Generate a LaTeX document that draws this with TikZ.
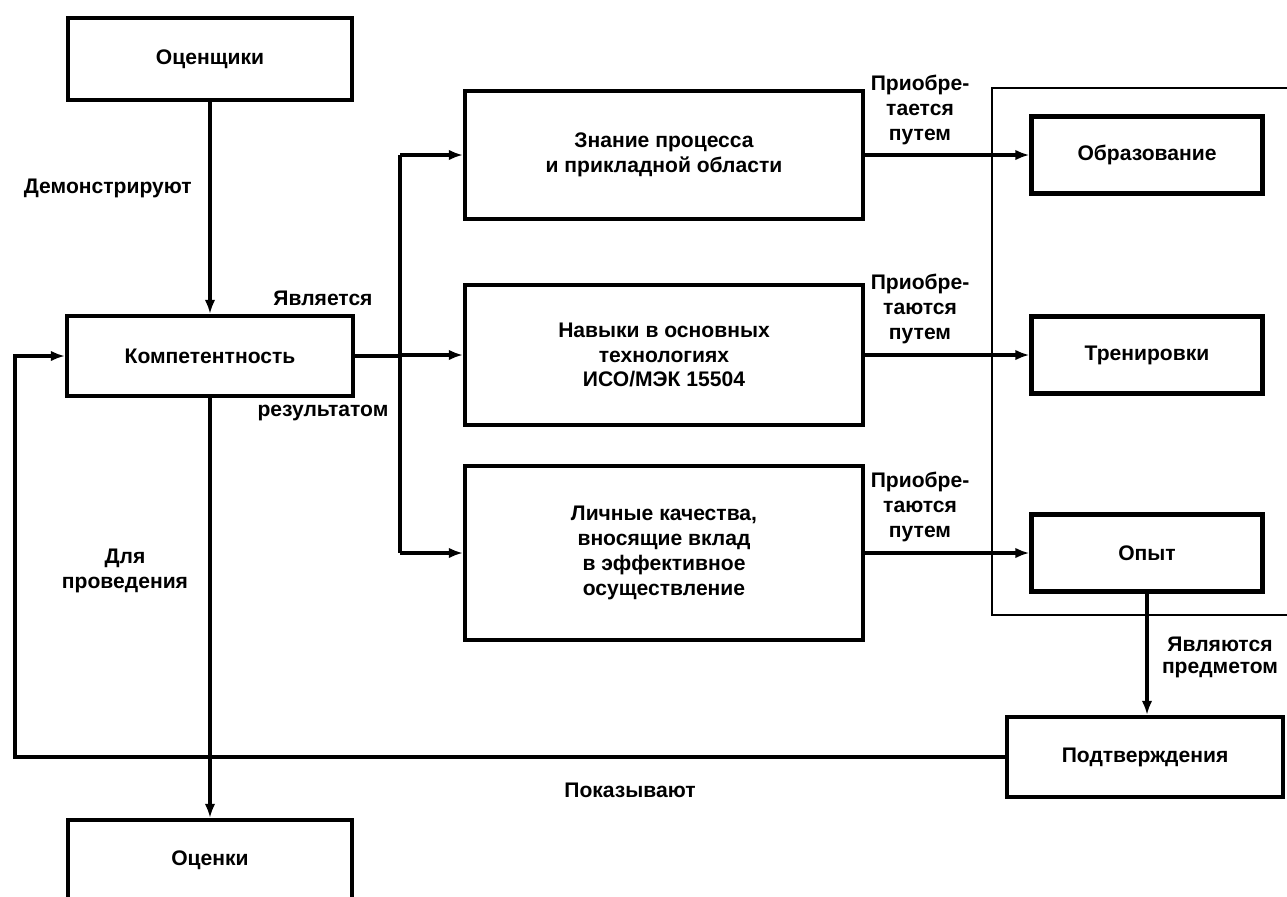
\documentclass[tikz,border=0pt]{standalone}
\usepackage{fontspec}
\setmainfont{Liberation Sans}
\usetikzlibrary{arrows.meta}

\tikzset{
    box/.style={draw, line width=2.4pt, align=center, inner sep=0pt},
    link/.style={line width=1.8pt},
    arr/.style={link, -{Latex[length=8pt,width=6pt]}},
    lbl/.style={align=center, inner sep=0pt},
}

\begin{document}
\begin{tikzpicture}[x=0.02cm, y=-0.02cm, font=\bfseries\fontsize{12}{14.2}\selectfont]
    \useasboundingbox (0,0) rectangle (1287,896);
    \clip (0,0) rectangle (1287,896);

    % Left column
    \node[box, minimum width=5.68cm, minimum height=1.64cm] (ocenshiki) at (210,59) {Оценщики};
    \node[box, minimum width=5.72cm, minimum height=1.6cm] (kompet) at (210,356) {Компетентность};
    \node[box, minimum width=5.68cm, minimum height=1.6cm] (ocenki) at (210,860) {Оценки};

    % Middle column
    \node[box, minimum width=7.96cm, minimum height=2.56cm] (znanie) at (664,155)
        {Знание процесса\\и прикладной области};
    \node[box, minimum width=7.96cm, minimum height=2.8cm] (navyki) at (664,355)
        {Навыки в основных\\технологиях\\ИСО/МЭК 15504};
    \node[box, minimum width=7.96cm, minimum height=3.48cm] (lichnye) at (664,553)
        {Личные качества,\\вносящие вклад\\в эффективное\\осуществление};

    % Right column
    \node[box, minimum width=4.62cm, minimum height=1.54cm] (obraz) at (1147,155) {Образование};
    \node[box, minimum width=4.62cm, minimum height=1.54cm] (trenir) at (1147,355) {Тренировки};
    \node[box, minimum width=4.62cm, minimum height=1.54cm] (opyt) at (1147,553) {Опыт};
    \node[box, minimum width=5.52cm, minimum height=1.6cm] (podtv) at (1145,757) {Подтверждения};

    % Frame round the right column
    \draw[line width=1.5pt] (1300,88) -| (992,615) -- (1300,615);

    % Connectors
    \coordinate (bus) at (400,0);
    \coordinate (fb) at (15,0);
    \draw[arr] (ocenshiki.south) -- (kompet.north);
    \draw[link] (kompet.east) -- (kompet.east -| bus);
    \draw[link] (znanie.west -| bus) -- (lichnye.west -| bus);
    \draw[arr] (znanie.west -| bus) -- (znanie.west);
    \draw[arr] (navyki.west -| bus) -- (navyki.west);
    \draw[arr] (lichnye.west -| bus) -- (lichnye.west);
    \draw[arr] (znanie.east) -- (obraz.west);
    \draw[arr] (navyki.east) -- (trenir.west);
    \draw[arr] (lichnye.east) -- (opyt.west);
    \draw[arr] (opyt.south) -- (opyt.south |- podtv.north);
    \draw[arr] (podtv.west) -- (podtv.west -| fb) |- (kompet.west);
    \draw[arr] (kompet.south) -- (ocenki.north);

    % Labels
    \node[lbl, anchor=east] (demo) at (192,188) {Демонстрируют};
    \node[lbl] (yavl) at (323,298) {Является};
    \node[lbl] (rezult) at (323,413) {результатом};
    \node[lbl] (dlya) at (125,571) {Для\\проведения};
    \node[lbl] (priob1) at (920,110) {Приобре-\\тается\\путем};
    \node[lbl] (priob2) at (920,309) {Приобре-\\таются\\путем};
    \node[lbl] (priob3) at (920,507) {Приобре-\\таются\\путем};
    \node[lbl, font=\bfseries\fontsize{12}{12.5}\selectfont] (predm) at (1220,657) {Являются\\предметом};
    \node[lbl] (pokaz) at (630,790) {Показывают};
\end{tikzpicture}
\end{document}
